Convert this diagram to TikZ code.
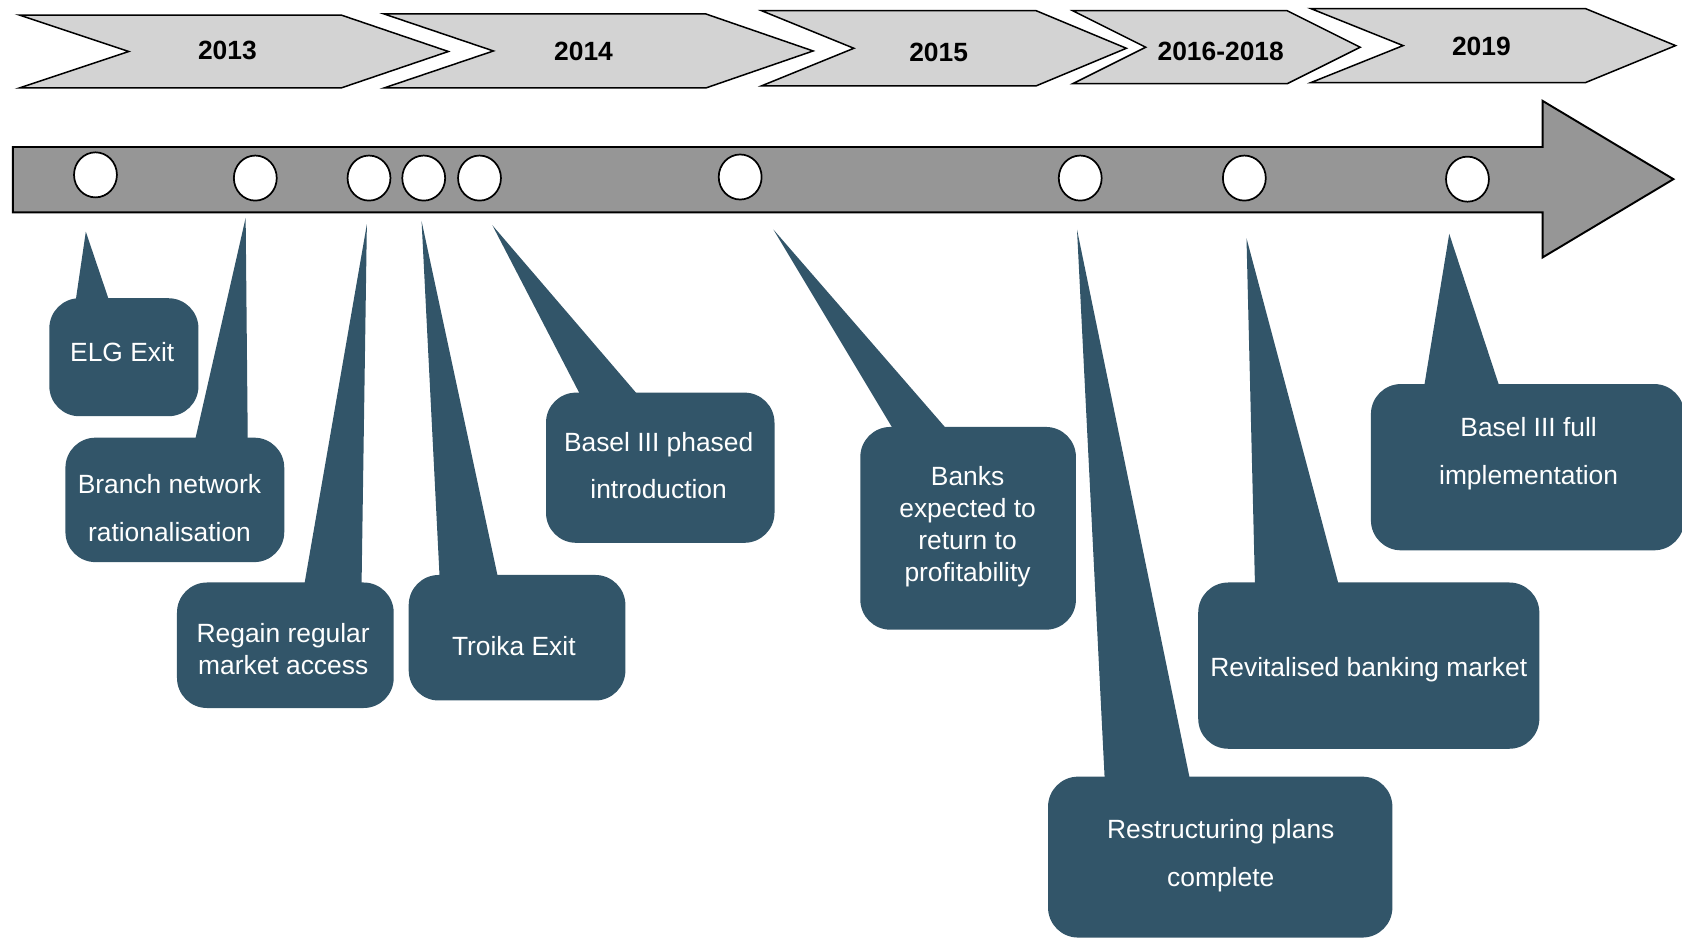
\documentclass[tikz,border=0pt]{standalone}
\usepackage{fontspec}
\setmainfont{Liberation Sans}
\definecolor{slate}{HTML}{325569}
\definecolor{chevfill}{HTML}{D3D3D3}
\definecolor{barfill}{HTML}{969696}
\tikzset{
  chevron/.style={fill=chevfill, draw=black, line width=0.7pt, line join=miter},
  yearlabel/.style={font=\fontsize{12.3}{15}\selectfont\bfseries, text=black, inner sep=0pt},
  bararrow/.style={fill=barfill, draw=black, line width=0.9pt, line join=miter},
  milestone/.style={ellipse, fill=white, draw=black, line width=0.8pt, minimum width=20pt, minimum height=21pt, inner sep=0pt},
  callbox/.style={fill=slate, rounded corners=14pt},
  calltext/.style={font=\fontsize{12.3}{15}\selectfont, text=white, align=center, inner sep=0pt},
  calltextwide/.style={font=\fontsize{12.3}{22.3}\selectfont, text=white, align=center, inner sep=0pt}
}
\usetikzlibrary{shapes.geometric}
\begin{document}
\begin{tikzpicture}[x=0.5pt,y=-0.5pt]
\useasboundingbox (0,0) rectangle (1568,875);

% year chevrons
\draw[chevron] (18,14) -- (318,14) -- (418,48) -- (318,82) -- (18,82) -- (120,48) -- cycle;
\draw[chevron] (358,13) -- (658,13) -- (758,47.5) -- (658,82) -- (358,82) -- (460,47.5) -- cycle;
\draw[chevron] (710,10) -- (966,10) -- (1050,45) -- (966,80) -- (710,80) -- (796,45) -- cycle;
\draw[chevron] (1000,10) -- (1200,10) -- (1268,44) -- (1200,78) -- (1000,78) -- (1068,44) -- cycle;
\draw[chevron] (1222,8) -- (1478,8) -- (1562,42.5) -- (1478,77) -- (1222,77) -- (1308,42.5) -- cycle;
\node[yearlabel] (y13) at (212,47) {2013};
\node[yearlabel] (y14) at (544,48) {2014};
\node[yearlabel] (y15) at (875,49) {2015};
\node[yearlabel] (y16) at (1138,48) {2016-2018};
\node[yearlabel] (y19) at (1381,43) {2019};

% timeline arrow
\draw[bararrow] (12,137) -- (1438,137) -- (1438,94) -- (1560,167) -- (1438,240) -- (1438,198) -- (12,198) -- cycle;

% milestones
\node[milestone] (m1) at (89,163) {};
\node[milestone] (m2) at (238,166) {};
\node[milestone] (m3) at (344,166) {};
\node[milestone] (m4) at (395,166) {};
\node[milestone] (m5) at (447,166) {};
\node[milestone] (m6) at (690,165) {};
\node[milestone] (m7) at (1007,166) {};
\node[milestone] (m8) at (1160,166) {};
\node[milestone] (m9) at (1368,167) {};

% callouts
% 1 ELG Exit
\fill[slate] (80,216) -- (70,284) -- (103,284) -- cycle;
\fill[callbox] (46,278) rectangle (185,388);
\node[calltext] (c1) at (114,328) {ELG Exit};
% 2 Branch network
\fill[slate] (229,203) -- (181,414) -- (231,414) -- cycle;
\fill[callbox] (61,408) rectangle (265,524);
\node[calltextwide] (c2) at (158,474) {Branch network\\rationalisation};
% 3 Regain regular
\fill[slate] (342,209) -- (283,549) -- (337,549) -- cycle;
\fill[callbox] (165,543) rectangle (367,660);
\node[calltext] (c3) at (264,605) {Regain regular\\market access};
% 4 Troika Exit
\fill[slate] (393,206) -- (410,542) -- (465,542) -- cycle;
\fill[callbox] (381,536) rectangle (583,653);
\node[calltext] (c4) at (479,602) {Troika Exit};
% 5 Basel III phased
\fill[slate] (459,210) -- (543,372) -- (598,372) -- cycle;
\fill[callbox] (509,366) rectangle (722,506);
\node[calltextwide] (c5) at (614,434) {Basel III phased\\introduction};
% 6 Banks expected
\fill[slate] (721,214) -- (835,404) -- (886,404) -- cycle;
\fill[callbox] (802,398) rectangle (1003,587);
\node[calltext] (c6) at (902,491) {Banks\\expected to\\return to\\profitability};
% 7 Restructuring
\fill[slate] (1004,214) -- (1030,730) -- (1110,730) -- cycle;
\fill[callbox] (977,724) rectangle (1298,874);
\node[calltextwide] (c7) at (1138,798) {Restructuring plans\\complete};
% 8 Revitalised
\fill[slate] (1162,222) -- (1170,549) -- (1249,549) -- cycle;
\fill[callbox] (1117,543) rectangle (1435,698);
\node[calltext] (c8) at (1276,624) {Revitalised banking market};
% 9 Basel III full
\fill[slate] (1351,218) -- (1327,364) -- (1399,364) -- cycle;
\fill[callbox] (1278,358) rectangle (1570,513);
\node[calltextwide] (c9) at (1425,423) {Basel III full\\implementation};
\end{tikzpicture}
\end{document}
